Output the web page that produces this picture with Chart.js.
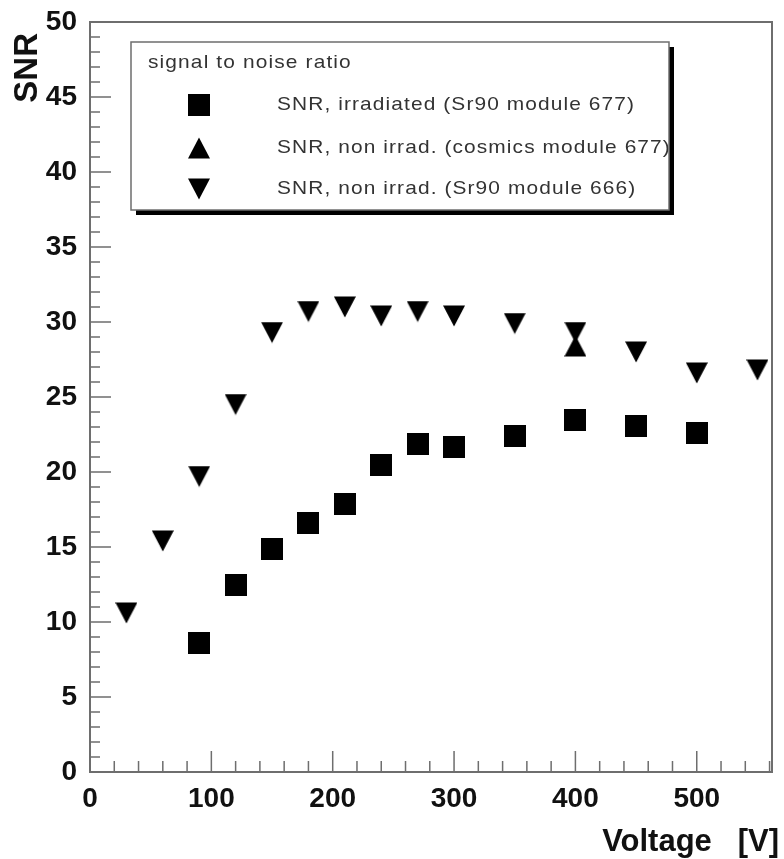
<!DOCTYPE html>
<html>
<head>
<meta charset="utf-8">
<script src="https://cdn.jsdelivr.net/npm/chart.js@4.4.1/dist/chart.umd.min.js"></script>
<style>
  body { margin: 0; background: #fff; }
  canvas { display: block; }
</style>
</head>
<body>
<canvas id="snrChart" width="784" height="859"></canvas>
<script>
// values
const voltIrr = [90, 120, 150, 180, 210, 240, 270, 300, 350, 400, 450, 500];
const snrIrr = [8.6, 12.5, 14.9, 16.6, 17.9, 20.5, 21.9, 21.7, 22.4, 23.5, 23.1, 22.6];
const voltCosmics = [400];
const snrCosmics = [28.4];
const volt666 = [30, 60, 90, 120, 150, 180, 210, 240, 270, 300, 350, 400, 450, 500, 550];
const snr666 = [10.6, 15.4, 19.7, 24.5, 29.3, 30.7, 31.0, 30.4, 30.7, 30.4, 29.9, 29.3, 28.0, 26.6, 26.8];

const xTicks = [0, 100, 200, 300, 400, 500];
const yTicks = [0, 5, 10, 15, 20, 25, 30, 35, 40, 45, 50];
const legendTitle = 'signal to noise ratio';
const labels = [
    'SNR, irradiated (Sr90 module 677)',
    'SNR, non irrad. (cosmics module 677)',
    'SNR, non irrad. (Sr90 module 666)'
];

const FONT = '"Liberation Sans", Arial, Helvetica, sans-serif';
const AXIS = '#6e6e6e';

// ROOT style markers as small canvases
function marker(kind) {
    const c = document.createElement('canvas');
    c.width = 22; c.height = 22;
    const g = c.getContext('2d');
    g.fillStyle = '#000';
    g.beginPath();
    if (kind === 'square') {
        g.rect(0, 0, 22, 22);
    } else if (kind === 'up') {
        g.moveTo(11, 0.5); g.lineTo(22, 21.5); g.lineTo(0, 21.5);
    } else {
        g.moveTo(0, 0.5); g.lineTo(22, 0.5); g.lineTo(11, 21.5);
    }
    g.closePath();
    g.fill();
    return c;
}
const mkSquare = marker('square');
const mkUp = marker('up');
const mkDown = marker('down');

const toPts = (xs, ys) => xs.map((x, i) => ({x: x, y: ys[i]}));

const frameAndTicks = {
    id: 'rootFrame',
    afterDraw: (chart) => {
        const ctx = chart.ctx;
        const xs = chart.scales.x, ys = chart.scales.y;
        const {left, right, top, bottom} = chart.chartArea;
        ctx.save();
        ctx.strokeStyle = AXIS;
        ctx.lineWidth = 2;
        ctx.strokeRect(left, top, right - left, bottom - top);
        ctx.lineWidth = 1.5;
        ctx.beginPath();
        for (let v = 0; v <= xs.max; v += 20) {
            const px = xs.getPixelForValue(v);
            const len = v % 100 === 0 ? 21 : 11;
            ctx.moveTo(px, bottom);
            ctx.lineTo(px, bottom - len);
        }
        for (let v = 0; v <= ys.max; v += 1) {
            const py = ys.getPixelForValue(v);
            const len = v % 5 === 0 ? 21 : 10;
            ctx.moveTo(left, py);
            ctx.lineTo(left + len, py);
        }
        ctx.stroke();

        // axis titles
        ctx.fillStyle = '#111';
        ctx.font = 'bold 31px ' + FONT;
        ctx.textAlign = 'right';
        ctx.textBaseline = 'alphabetic';
        ctx.fillText('Voltage   [V]', 779, 851);
        ctx.save();
        ctx.translate(37, 33);
        ctx.rotate(-Math.PI / 2);
        ctx.font = 'bold 33px ' + FONT;
        ctx.fillText('SNR', 0, 0);
        ctx.restore();
        ctx.restore();
    }
};

function stretchedText(ctx, text, x, y, sx) {
    ctx.save();
    ctx.translate(x, y);
    ctx.scale(sx, 1);
    ctx.fillText(text, 0, 0);
    ctx.restore();
}

const rootLegend = {
    id: 'rootLegend',
    afterDraw: (chart) => {
        const ctx = chart.ctx;
        const bx = 131, by = 42, bw = 538, bh = 168;
        ctx.save();
        ctx.fillStyle = '#000';
        ctx.fillRect(bx + 5, by + 5, bw, bh);
        ctx.fillStyle = '#fff';
        ctx.fillRect(bx, by, bw, bh);

        ctx.save();
        ctx.beginPath();
        ctx.rect(bx, by, bw, bh);
        ctx.clip();
        ctx.fillStyle = '#333';
        ctx.textAlign = 'left';
        ctx.letterSpacing = '1px';
        ctx.font = '18.5px ' + FONT;
        ctx.textBaseline = 'alphabetic';
        stretchedText(ctx, legendTitle, 148, 68, 1.13);

        ctx.font = '19px ' + FONT;
        ctx.textBaseline = 'middle';
        const rows = [105, 148, 189];
        chart.data.datasets.forEach((ds, i) => {
            const img = ds.pointStyle;
            ctx.drawImage(img, 199 - img.width / 2, rows[i] - img.height / 2);
            stretchedText(ctx, ds.label, 277, rows[i], 1.1);
        });
        ctx.restore();

        ctx.strokeStyle = AXIS;
        ctx.lineWidth = 1.5;
        ctx.strokeRect(bx, by, bw, bh);
        ctx.restore();
    }
};

new Chart(document.getElementById('snrChart'), {
    type: 'scatter',
    data: {
        datasets: [
            {label: labels[0], data: toPts(voltIrr, snrIrr), pointStyle: mkSquare},
            {label: labels[1], data: toPts(voltCosmics, snrCosmics), pointStyle: mkUp},
            {label: labels[2], data: toPts(volt666, snr666), pointStyle: mkDown}
        ]
    },
    options: {
        responsive: false,
        animation: false,
        clip: false,
        layout: {padding: {top: 22, right: 12, left: 0, bottom: 0}},
        plugins: {
            legend: {display: false},
            tooltip: {enabled: false}
        },
        scales: {
            x: {
                type: 'linear',
                min: 0,
                max: 562,
                afterBuildTicks: (s) => { s.ticks = xTicks.map(v => ({value: v})); },
                afterFit: (s) => { s.height = 87; },
                grid: {display: false},
                border: {display: false},
                ticks: {
                    color: '#111',
                    padding: 2,
                    maxRotation: 0,
                    font: {family: FONT, size: 28, weight: 'bold'}
                }
            },
            y: {
                type: 'linear',
                min: 0,
                max: 50,
                afterBuildTicks: (s) => { s.ticks = yTicks.map(v => ({value: v})); },
                afterFit: (s) => { s.width = 90; },
                grid: {display: false},
                border: {display: false},
                ticks: {
                    color: '#111',
                    padding: 5,
                    font: {family: FONT, size: 28, weight: 'bold'}
                }
            }
        }
    },
    plugins: [frameAndTicks, rootLegend]
});
</script>
</body>
</html>
